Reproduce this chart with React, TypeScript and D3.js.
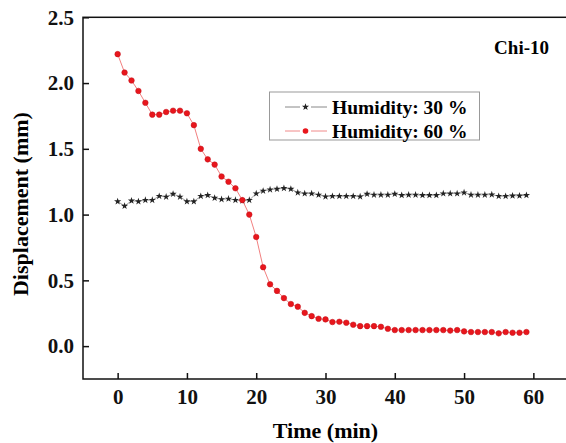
import React, { useRef, useEffect } from 'react'
import * as d3 from 'd3'

// time in minutes, one reading per minute
const times: number[] = d3.range(0, 60)

// Humidity 30 % (black stars)
const humidity30: number[] = [
  1.10, 1.065, 1.105, 1.10, 1.11, 1.11, 1.14, 1.135, 1.157, 1.135,
  1.10, 1.10, 1.14, 1.147, 1.126, 1.116, 1.12, 1.11, 1.105, 1.11,
  1.16, 1.18, 1.19, 1.195, 1.20, 1.195, 1.167, 1.16, 1.16, 1.15,
  1.137, 1.14, 1.14, 1.14, 1.14, 1.137, 1.157, 1.15, 1.15, 1.15,
  1.157, 1.147, 1.15, 1.15, 1.147, 1.147, 1.147, 1.16, 1.16, 1.16,
  1.167, 1.15, 1.15, 1.15, 1.152, 1.14, 1.14, 1.143, 1.143, 1.147,
]

// Humidity 60 % (red dots)
const humidity60: number[] = [
  2.22, 2.08, 2.02, 1.94, 1.85, 1.76, 1.76, 1.78, 1.79, 1.79,
  1.77, 1.68, 1.50, 1.42, 1.38, 1.29, 1.25, 1.20, 1.11, 1.00,
  0.83, 0.60, 0.47, 0.42, 0.365, 0.32, 0.30, 0.253, 0.228, 0.208,
  0.203, 0.183, 0.185, 0.178, 0.163, 0.152, 0.152, 0.152, 0.147, 0.132,
  0.122, 0.122, 0.122, 0.122, 0.122, 0.122, 0.122, 0.122, 0.118, 0.122,
  0.112, 0.107, 0.107, 0.107, 0.107, 0.097, 0.107, 0.102, 0.102, 0.107,
]

const xTicks: number[] = [0, 10, 20, 30, 40, 50, 60]
const yTicks: number[] = [0, 0.5, 1.0, 1.5, 2.0, 2.5]
const legendLabels: string[] = ['Humidity: 30 %', 'Humidity: 60 %']
const sampleName = 'Chi-10'

const W = 566
const H = 443
const FONT = '"Liberation Serif", "Times New Roman", serif'

export default function App() {
  const svgRef = useRef<SVGSVGElement>(null)

  useEffect(() => {
    const svg = d3.select(svgRef.current)
    svg.selectAll('*').remove()

    const x = d3.scaleLinear().domain([-5, 65]).range([83, 568])
    const y = d3.scaleLinear().domain([-0.25, 2.5]).range([379, 17.3])

    // frame
    svg.append('rect')
      .attr('x', x(-5)).attr('y', y(2.5))
      .attr('width', x(65) - x(-5)).attr('height', y(-0.25) - y(2.5))
      .attr('fill', 'none').attr('stroke', '#111').attr('stroke-width', 1.5)

    // axes with inward ticks
    const xAxis = d3.axisBottom(x).tickValues(xTicks).tickSizeInner(-6).tickSizeOuter(0).tickPadding(10)
      .tickFormat(d => String(d))
    const yAxis = d3.axisLeft(y).tickValues(yTicks).tickSizeInner(-6).tickSizeOuter(0).tickPadding(9)
      .tickFormat(d => d3.format('.1f')(d as number))

    const gx = svg.append('g').attr('transform', `translate(0, ${y(-0.25)})`).call(xAxis)
    const gy = svg.append('g').attr('transform', `translate(${x(-5)}, 0)`).call(yAxis)
    for (const g of [gx, gy]) {
      g.select('.domain').remove()
      g.selectAll('line').attr('stroke', '#111').attr('stroke-width', 1.5)
      g.selectAll('text')
        .attr('fill', '#111')
        .style('font-family', FONT)
        .style('font-size', '21px')
        .style('font-weight', 'bold')
    }

    // axis titles
    svg.append('text')
      .attr('x', x(30)).attr('y', 438)
      .attr('text-anchor', 'middle')
      .style('font-family', FONT).style('font-size', '22px').style('font-weight', 'bold')
      .text('Time (min)')
    svg.append('text')
      .attr('transform', `translate(28, ${y(1.08)}) rotate(-90)`)
      .attr('text-anchor', 'middle')
      .style('font-family', FONT).style('font-size', '22px').style('font-weight', 'bold')
      .text('Displacement (mm)')

    // lines
    const line = d3.line<number>().x((d, i) => x(times[i])).y(d => y(d))

    svg.append('path').datum(humidity30)
      .attr('d', line).attr('fill', 'none')
      .attr('stroke', '#888').attr('stroke-width', 0.8)
    svg.append('path').datum(humidity60)
      .attr('d', line).attr('fill', 'none')
      .attr('stroke', '#f28080').attr('stroke-width', 1)

    const star = d3.symbol().type(d3.symbolStar).size(16)
    svg.append('g').selectAll('path')
      .data(humidity30)
      .join('path')
      .attr('d', star)
      .attr('transform', (d, i) => `translate(${x(times[i])}, ${y(d)})`)
      .attr('fill', '#222')

    svg.append('g').selectAll('circle')
      .data(humidity60)
      .join('circle')
      .attr('cx', (d, i) => x(times[i])).attr('cy', d => y(d))
      .attr('r', 2.8)
      .attr('fill', '#e8161c')
      .attr('stroke', '#c0101a').attr('stroke-width', 0.5)

    // legend
    const lg = svg.append('g')
    lg.append('rect')
      .attr('x', 269.5).attr('y', 92).attr('width', 210).attr('height', 48)
      .attr('fill', 'white').attr('stroke', '#999').attr('stroke-width', 1)
    const rows = [
      { label: legendLabels[0], line: '#888', kind: 'star' },
      { label: legendLabels[1], line: '#f08a8a', kind: 'circle' },
    ]
    rows.forEach((r, i) => {
      const cy = 107 + i * 24
      lg.append('line')
        .attr('x1', 285).attr('x2', 327).attr('y1', cy).attr('y2', cy)
        .attr('stroke', r.line).attr('stroke-width', 1)
      lg.append('line')
        .attr('x1', 300).attr('x2', 311).attr('y1', cy).attr('y2', cy)
        .attr('stroke', 'white').attr('stroke-width', 3)
      if (r.kind === 'star') {
        lg.append('path').attr('d', star).attr('transform', `translate(305.5, ${cy})`).attr('fill', '#222')
      } else {
        lg.append('circle').attr('cx', 305.5).attr('cy', cy).attr('r', 2.8).attr('fill', '#e8161c')
      }
      lg.append('text')
        .attr('x', 332).attr('y', cy).attr('dy', '0.35em')
        .style('font-family', FONT).style('font-size', '19.5px').style('font-weight', 'bold')
        .text(r.label)
    })

    svg.append('text')
      .attr('x', 549).attr('y', 47).attr('dy', '0.35em')
      .attr('text-anchor', 'end')
      .style('font-family', FONT).style('font-size', '19px').style('font-weight', 'bold')
      .text(sampleName)
  }, [])

  return (
    <svg ref={svgRef} width={W} height={H}
      style={{ position: 'absolute', left: 0, top: 0, background: 'white' }} />
  )
}
